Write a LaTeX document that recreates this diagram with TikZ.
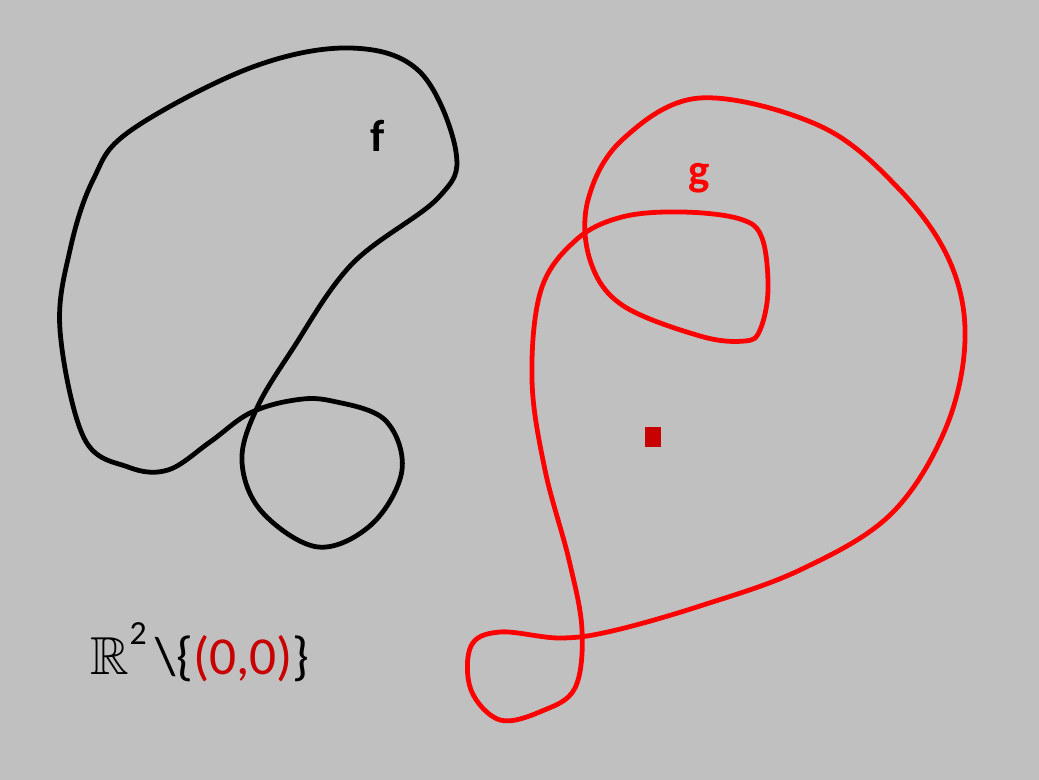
\documentclass[tikz,border=0pt]{standalone}
\usepackage{amsmath, amssymb}
\usepackage{fontspec}
\setmainfont{Carlito}
\definecolor{bggray}{RGB}{192, 192, 192}
\definecolor{curvered}{RGB}{255, 0, 0}
\definecolor{darkred}{RGB}{200, 0, 0}
\usetikzlibrary{positioning}

\begin{document}
\begin{tikzpicture}[x=0.025cm, y=-0.025cm,
		curve/.style={line width=3.4pt, smooth cycle, tension=0.6},
		curvelabel/.style={font=\fontsize{32}{36}\selectfont\bfseries},
		setlabel/.style={font=\fontsize{38}{44}\selectfont, anchor=base west}
		]
		\fill[bggray] (0, 0) rectangle (1039, 780) ;
		\useasboundingbox (0, 0) rectangle (1039, 780) ;
		
		% loop f
		\draw[curve, black] plot coordinates {
			(350,48) (420,72) (456,152) (438,198) (352,264) (292,350)
			(256,410) (242,462) (262,512) (318,547) (372,524) (402,470)
			(385,420) (332,401) (295,400) (250,413) (210,442) (168,470)
			(128,467) (84,438) (60,330) (70,250) (93,180) (130,131) (250,68)} ;
		\node[curvelabel, text=black] (flabel) at (378, 136) {f} ;
		
		% loop g
		\draw[curve, curvered] plot coordinates {
			(700,98) (820,126) (900,190) (950,262) (965,340) (945,430)
			(890,515) (800,570) (700,606) (612,631) (560,638) (500,632)
			(471,646) (471,690) (500,720) (542,711) (575,688) (582,630)
			(569,560) (545,470) (532,380) (541,290) (576,240) (622,217)
			(682,212) (740,219) (762,238) (768,290) (760,330) (745,341)
			(700,336) (622,305) (590,260) (588,200) (622,140)} ;
		\node[curvelabel, text=curvered] (glabel) at (699, 178) {g} ;
		
		% removed point
		\node[fill=darkred, inner sep=0pt, minimum width=0.4cm,
			minimum height=0.52cm] (origin) at (653, 437) {} ;
		
		\node[setlabel] (space) at (86, 674)
		{$\mathbb{R}$\raisebox{0.55em}{\fontsize{24}{26}\selectfont 2}\,\textbackslash\{\textcolor{darkred}{(0,0)}\}} ;
	\end{tikzpicture}
\end{document}
